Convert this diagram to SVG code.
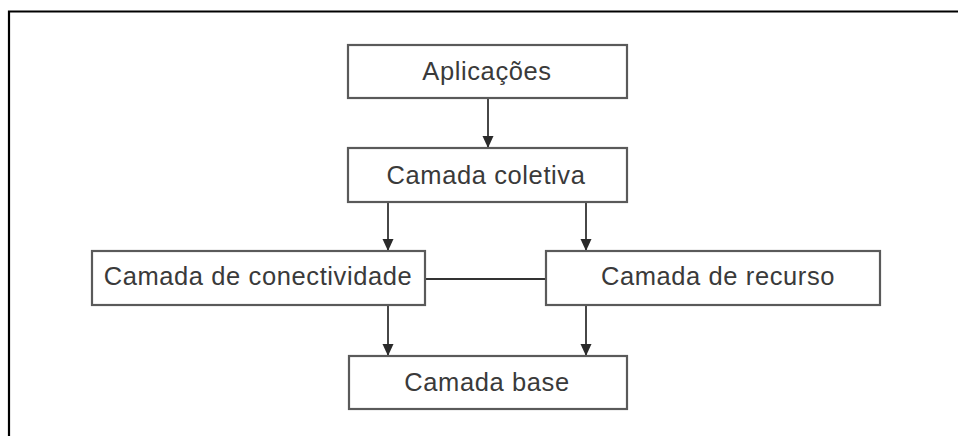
<svg xmlns="http://www.w3.org/2000/svg" width="958" height="436" viewBox="0 0 958 436">
  <defs>
    <marker id="arrow" viewBox="0 0 12 12" refX="12" refY="6" markerWidth="12" markerHeight="12" markerUnits="userSpaceOnUse" orient="auto">
      <path d="M0,0.5 L12,6 L0,11.5 Z" fill="#2a2a2a"/>
    </marker>
  </defs>
  <style>
    .box { fill: #ffffff; stroke: #5a5a5a; stroke-width: 2.2; }
    .label { font-family: "Liberation Sans", Arial, sans-serif; font-size: 25.5px; letter-spacing: 0.6px; fill: #3a3a3a; text-anchor: middle; }
    .link { stroke: #333333; stroke-width: 1.8; fill: none; }
    .frame { stroke: #000000; stroke-width: 2.2; fill: none; }
  </style>
  <rect width="958" height="436" fill="#ffffff"/>
  <!-- page frame: top and left edges -->
  <path class="frame" d="M9,436 L9,11.5 L958,11.5"/>

  <g id="connectors">
    <line class="link" x1="488" y1="98" x2="488" y2="148" marker-end="url(#arrow)"/>
    <line class="link" x1="388" y1="202" x2="388" y2="251" marker-end="url(#arrow)"/>
    <line class="link" x1="586" y1="202" x2="586" y2="251" marker-end="url(#arrow)"/>
    <line class="link" x1="425" y1="279" x2="546" y2="279"/>
    <line class="link" x1="388" y1="305" x2="388" y2="356" marker-end="url(#arrow)"/>
    <line class="link" x1="586" y1="305" x2="586" y2="356" marker-end="url(#arrow)"/>
  </g>

  <g id="aplicacoes">
    <rect class="box" x="348" y="45" width="279" height="53"/>
    <text class="label" x="487" y="80">Aplicações</text>
  </g>
  <g id="camada-coletiva">
    <rect class="box" x="348" y="148" width="279" height="54"/>
    <text class="label" x="486" y="184">Camada coletiva</text>
  </g>
  <g id="camada-conectividade">
    <rect class="box" x="92" y="251" width="333" height="54"/>
    <text class="label" x="258" y="285">Camada de conectividade</text>
  </g>
  <g id="camada-recurso">
    <rect class="box" x="546" y="251" width="334" height="54"/>
    <text class="label" x="718" y="285">Camada de recurso</text>
  </g>
  <g id="camada-base">
    <rect class="box" x="349" y="356" width="278" height="53"/>
    <text class="label" x="487" y="391">Camada base</text>
  </g>
</svg>
